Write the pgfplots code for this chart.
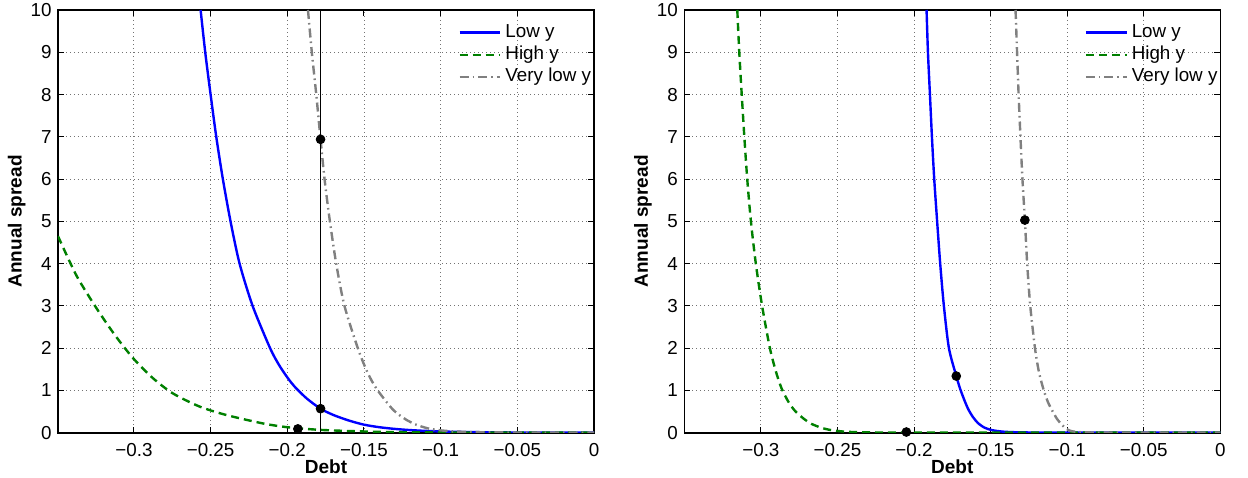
\documentclass[border=0pt]{standalone}
\usepackage{fontspec}
\setmainfont{Liberation Sans}
\usepackage{pgfplots}
\pgfplotsset{compat=1.18}
\definecolor{mblue}{rgb}{0,0,1}
\definecolor{mgreen}{rgb}{0,0.5,0}
\definecolor{mgray}{rgb}{0.5,0.5,0.5}
\pgfplotsset{
  mystyle/.style={
    scale only axis, width=268pt, height=211.35pt,
    xmax=0, ymin=0, ymax=10,
    xtick={-0.3,-0.25,-0.2,-0.15,-0.1,-0.05,0},
    xticklabels={−0.3,−0.25,−0.2,−0.15,−0.1,−0.05,0},
    ytick={0,1,2,3,4,5,6,7,8,9,10},
    /pgf/number format/assume math mode=true,
    tick align=inside, major tick length=3pt,
    tick style={black, line width=0.5pt},
    axis line style={black, line width=0.8pt},
    grid=major,
    major grid style={line width=0.45pt, black!55, dash pattern=on 0.5pt off 1.5pt},
    tick label style={font=\fontsize{9.4}{11}\selectfont},
    xticklabel style={yshift=-1.6pt},
    yticklabel style={xshift=0.3pt},
    label style={font=\bfseries\fontsize{9.5}{11}\selectfont},
    xlabel={Debt}, ylabel={Annual spread},
    xlabel style={at={([yshift=-17pt]axis description cs:0.5,0)}, anchor=center},
    ylabel style={at={([xshift=-20.65pt]axis description cs:0,0.5)}, anchor=center},
    legend style={at={(axis description cs:0.747,0.968)}, anchor=north west,
      draw=none, fill=none, font=\fontsize{9.4}{10}\selectfont,
      inner sep=0pt, outer sep=0pt, row sep=2.4pt,
      nodes={inner sep=0pt, text height=6.8pt, text depth=2pt},
      /tikz/every odd column/.append style={column sep=2pt}},
    legend cell align=left,
    legend image code/.code={\draw[##1] (0pt,0pt) -- (20.35pt,0pt);},
  },
  lowy/.style={mblue, line width=1.2pt, solid, smooth, tension=0.45},
  highy/.style={mgreen, line width=1.2pt, dash pattern=on 4pt off 2.5pt, smooth, tension=0.45},
  vlowy/.style={mgray, line width=1.2pt, dash pattern=on 4.5pt off 2pt on 0.8pt off 2pt, smooth, tension=0.45},
}
\begin{document}
\begin{tikzpicture}
\path[use as bounding box] (-29pt,-22.15pt) rectangle (595pt,216.35pt);
% ---------------- left panel ----------------
\begin{axis}[mystyle, at={(0pt,0pt)}, anchor=south west, xmin=-0.3495]
\addplot[lowy] coordinates {
(-0.2565,10) (-0.2535,9) (-0.2500,8) (-0.2463,7) (-0.2420,6) (-0.2370,5)
(-0.2311,4) (-0.2226,3) (-0.2112,2) (-0.2050,1.58) (-0.1990,1.26) (-0.1942,1.05)
(-0.1870,0.80) (-0.1783,0.568) (-0.1700,0.42) (-0.1600,0.29) (-0.1500,0.19)
(-0.1400,0.13) (-0.1300,0.09) (-0.1200,0.062) (-0.1100,0.043) (-0.1000,0.03)
(-0.0900,0.02) (-0.0750,0.012) (-0.0500,0.005) (-0.0250,0.002) (0,0.001)};
\addlegendentry{Low y}
\addplot[highy] coordinates {
(-0.3495,4.65) (-0.3375,3.72) (-0.3245,2.95) (-0.3126,2.32) (-0.3007,1.77)
(-0.2876,1.29) (-0.2746,0.93) (-0.2573,0.62) (-0.2399,0.42) (-0.2160,0.22)
(-0.2000,0.13) (-0.1800,0.07) (-0.1600,0.04) (-0.1400,0.02) (-0.1200,0.01)
(-0.1000,0.006) (-0.0500,0.002) (0,0.001)};
\addlegendentry{High y}
\addplot[vlowy] coordinates {
(-0.1865,10) (-0.1840,9) (-0.1811,8) (-0.1783,6.94) (-0.1757,6) (-0.1724,5.05)
(-0.1681,4) (-0.1627,3) (-0.1540,2) (-0.1480,1.45) (-0.1420,1.05) (-0.1312,0.55)
(-0.1230,0.32) (-0.1160,0.19) (-0.1080,0.10) (-0.1000,0.055) (-0.0900,0.028)
(-0.0750,0.012) (-0.0500,0.004) (0,0.001)};
\addlegendentry{Very low y}
\addplot[black, line width=0.5pt, forget plot] coordinates {(-0.1783,0) (-0.1783,10)};
\addplot[only marks, mark=*, mark size=2.2pt, black, forget plot] coordinates {
(-0.1931,0.09) (-0.1783,0.568) (-0.1783,6.94)};
\end{axis}
% ---------------- right panel ----------------
\begin{axis}[mystyle, at={(313.15pt,0pt)}, anchor=south west, xmin=-0.35]
\addplot[lowy] coordinates {
(-0.1918,10) (-0.1909,9) (-0.1896,8) (-0.1883,7) (-0.1868,6) (-0.1849,5)
(-0.1829,4) (-0.1805,3) (-0.1772,2) (-0.1724,1.34) (-0.1698,1.03) (-0.1670,0.76)
(-0.1645,0.55) (-0.1615,0.37) (-0.1583,0.23) (-0.1540,0.12) (-0.1490,0.06)
(-0.1420,0.025) (-0.1330,0.01) (-0.1200,0.004) (-0.1000,0.002) (0,0.001)};
\addlegendentry{Low y}
\addplot[highy] coordinates {
(-0.3154,10) (-0.3141,9) (-0.3125,8) (-0.3108,7) (-0.3089,6) (-0.3065,5)
(-0.3033,4) (-0.2992,3) (-0.2941,2) (-0.2902,1.45) (-0.2865,1.05) (-0.2820,0.73)
(-0.2778,0.52) (-0.2720,0.33) (-0.2670,0.21) (-0.2600,0.11) (-0.2530,0.055)
(-0.2440,0.022) (-0.2300,0.008) (-0.2100,0.003) (-0.1500,0.001) (0,0.001)};
\addlegendentry{High y}
\addplot[vlowy] coordinates {
(-0.1337,10) (-0.1327,9) (-0.1317,8) (-0.1305,7) (-0.1292,6) (-0.1276,5.03)
(-0.1261,4) (-0.1241,3) (-0.1210,2) (-0.1185,1.45) (-0.1155,1.03) (-0.1125,0.72)
(-0.1094,0.5) (-0.1065,0.32) (-0.1035,0.19) (-0.1005,0.09) (-0.0975,0.04)
(-0.0920,0.013) (-0.0800,0.004) (-0.0500,0.002) (0,0.001)};
\addlegendentry{Very low y}
\addplot[only marks, mark=*, mark size=2.2pt, black, forget plot] coordinates {
(-0.2050,0.016) (-0.1724,1.34) (-0.1276,5.03)};
\end{axis}
\end{tikzpicture}
\end{document}
